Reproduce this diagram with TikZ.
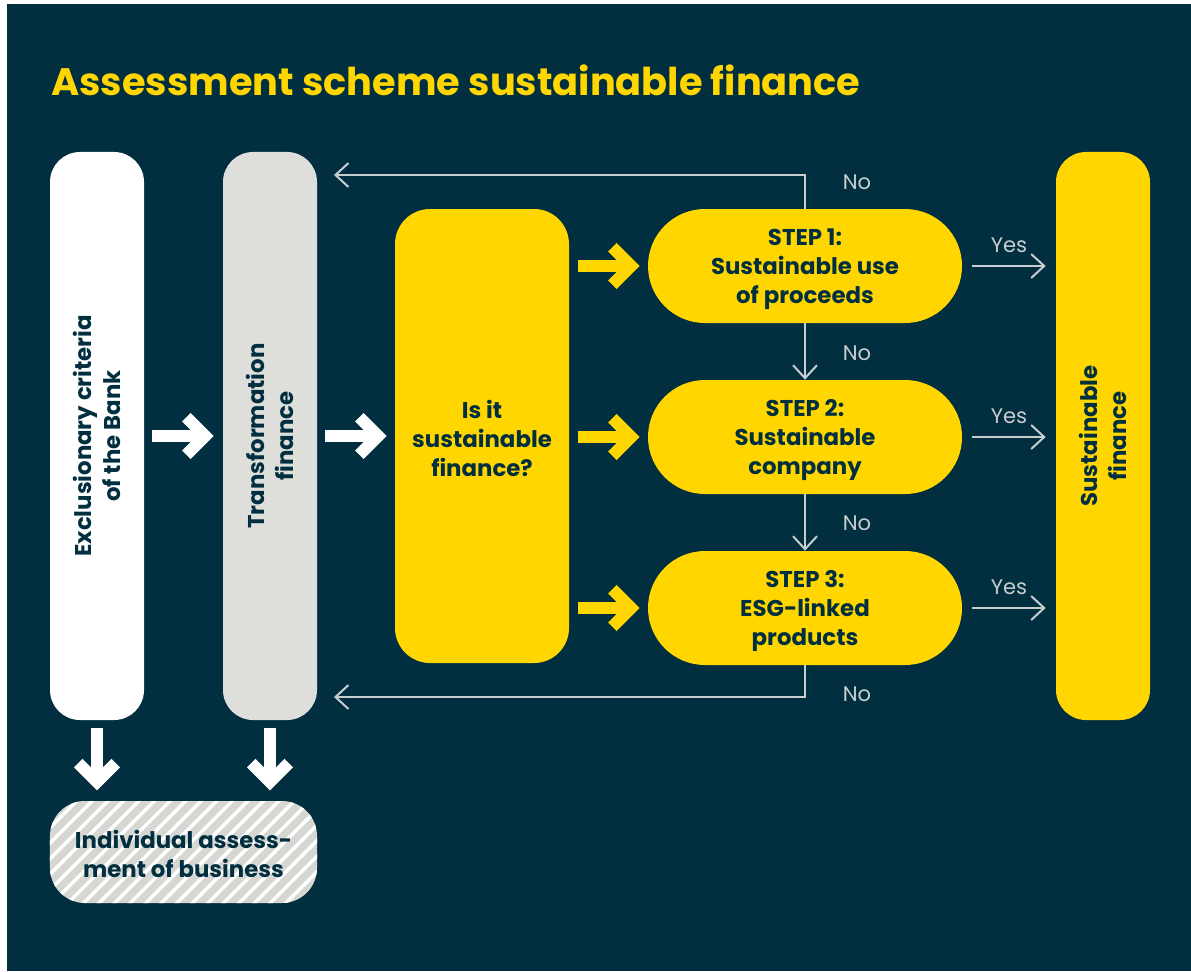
\documentclass[tikz,border=0pt]{standalone}
\usepackage{fontspec}
\setmainfont{Poppins}
\usetikzlibrary{arrows.meta,patterns.meta,calc}
\definecolor{navy}{RGB}{1,47,63}
\definecolor{sunny}{RGB}{255,214,0}
\definecolor{pale}{RGB}{222,222,218}
\definecolor{hatchgray}{RGB}{214,214,210}
\definecolor{linegray}{RGB}{200,205,208}
\newcommand\titlefont{\fontsize{21.8}{26}\selectfont\bfseries}
\newcommand\boxfont{\fontsize{13}{16.5}\selectfont\bfseries}
\newcommand\lblfont{\fontsize{12}{14}\selectfont}
\tikzset{
  pill/.style={inner sep=0pt, rounded corners=6mm, minimum width=18.8mm, minimum height=113.6mm},
  boxtext/.style={inner sep=0pt, align=center, font=\boxfont, text=navy},
  steppill/.style={fill=sunny, rounded corners=11.4mm, minimum width=62.8mm, minimum height=22.8mm, inner sep=0pt, align=center, font=\boxfont, text=navy},
  thinarrow/.style={draw=linegray, line width=0.4mm, -{Straight Barb[length=2.6mm,width=4.8mm]}},
  lbl/.style={text=linegray, font=\lblfont, anchor=base},
  blockarrow/.pic={
    \fill (-62,-6) rectangle (-10,6);
    \fill (0,0) -- (-23,-23) -- (-31.5,-14.5) -- (-17,0) -- (-31.5,14.5) -- (-23,23) -- cycle;
  }
}
\begin{document}
\begin{tikzpicture}[x=0.2mm,y=-0.2mm]
\fill[white] (0,0) rectangle (1191,971);
\fill[navy] (7,4) rectangle (1191,971);
\useasboundingbox (0,0) rectangle (1191,971);

\node[anchor=base west, inner sep=0pt, font=\titlefont, text=sunny] (title) at (51,95) {Assessment scheme sustainable finance};

% columns
\node[pill, fill=white] (ex) at (97,436) {};
\node[boxtext, rotate=90] (ex-t) at (ex.center) {Exclusionary criteria\\of the Bank};
\node[pill, fill=pale] (tr) at (270,436) {};
\node[boxtext, rotate=90] (tr-t) at (tr.center) {Transformation\\finance};
\node[inner sep=0pt, fill=sunny, rounded corners=7mm, minimum width=34.8mm, minimum height=90.8mm, align=center, font=\boxfont, text=navy] (q) at (482,436) {};
\node[boxtext] (q-t) at ([yshift=-0.5mm]q.center) {Is it\\sustainable\\finance?};
\node[steppill] (s1) at (805,266) {};
\node[boxtext] (s1-t) at ([yshift=-0.6mm]s1.center) {STEP 1:\\Sustainable use\\of proceeds};
\node[steppill] (s2) at (805,437) {};
\node[boxtext] (s2-t) at ([yshift=-0.6mm]s2.center) {STEP 2:\\Sustainable\\company};
\node[steppill] (s3) at (805,608) {};
\node[boxtext] (s3-t) at ([yshift=-0.6mm]s3.center) {STEP 3:\\ESG-linked\\products};
\node[pill, fill=sunny] (sf) at (1103,436) {};
\node[boxtext, rotate=90] (sf-t) at (sf.center) {Sustainable\\finance};
\node[inner sep=0pt, rounded corners=7mm, minimum width=53.4mm, minimum height=20.4mm,
      preaction={fill=hatchgray}, pattern={Lines[angle=45,distance=2.2mm,line width=0.7mm]}, pattern color=white] (ind) at (183.5,852) {};
\node[boxtext] (ind-t) at ([yshift=-0.4mm]ind.center) {Individual assess-\\ment of business};

% block arrows
\pic[color=white] at ([xshift=-1.8mm]tr.west) {blockarrow};
\pic[color=white] at ([xshift=-1.6mm]q.west) {blockarrow};
\pic[color=sunny] at ([xshift=-1.6mm]s1.west) {blockarrow};
\pic[color=sunny] at ([xshift=-1.6mm]s2.west) {blockarrow};
\pic[color=sunny] at ([xshift=-1.6mm]s3.west) {blockarrow};
\pic[color=white, rotate=-90] at ([yshift=1.8mm]ex.center |- ind.north) {blockarrow};
\pic[color=white, rotate=-90] at ([yshift=1.8mm]tr.center |- ind.north) {blockarrow};

% thin connectors
\coordinate (nt) at (334,175);
\coordinate (nb) at (334,697);
\draw[thinarrow] (s1.north) |- (nt);
\draw[thinarrow] (s3.south) |- (nb);
\draw[thinarrow] (s1.south) -- (s2.north);
\draw[thinarrow] (s2.south) -- (s3.north);
\draw[thinarrow] ([xshift=2mm]s1.east) -- ([xshift=-2mm]s1.east -| sf.west) node[lbl, midway, yshift=2.8mm] (y1) {Yes};
\draw[thinarrow] ([xshift=2mm]s2.east) -- ([xshift=-2mm]s2.east -| sf.west) node[lbl, midway, yshift=2.8mm] (y2) {Yes};
\draw[thinarrow] ([xshift=2mm]s3.east) -- ([xshift=-2mm]s3.east -| sf.west) node[lbl, midway, yshift=2.8mm] (y3) {Yes};
\node[lbl] (no1) at (857,189) {No};
\node[lbl] (no2) at (857,360) {No};
\node[lbl] (no3) at (857,530) {No};
\node[lbl] (no4) at (857,701) {No};
\end{tikzpicture}
\end{document}
